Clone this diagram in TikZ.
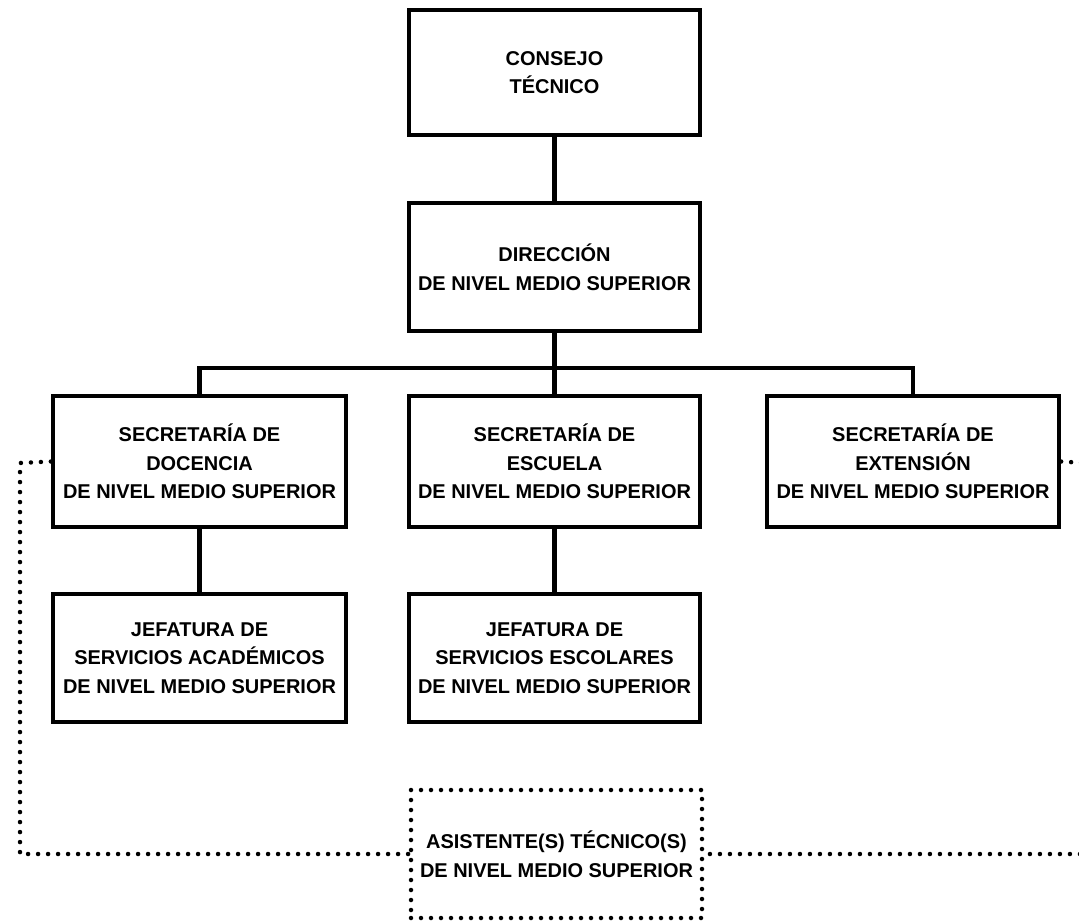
\documentclass[tikz,border=0pt]{standalone}
\usepackage{fontspec}
\setmainfont{Liberation Sans}
\usepackage{tikz}
\usetikzlibrary{positioning}

\tikzset{
  orgbox/.style={draw, line width=3pt, minimum width=291*0.025cm, minimum height=128*0.025cm,
    align=center, font=\fontsize{14.2}{20.4}\selectfont\bfseries, inner sep=0pt},
  link/.style={line width=3pt},
  dotlink/.style={line width=3.2pt, line cap=round, dash pattern=on 0pt off 10*0.025cm}
}

\begin{document}
\begin{tikzpicture}[x=0.025cm, y=-0.025cm]
\useasboundingbox (0,0) rectangle (1079,921);

\node[orgbox, minimum height=125*0.025cm] (consejo) at (554.5,72.5) {CONSEJO\\TÉCNICO};
\node[orgbox] (direccion) at (554.5,267) {DIRECCIÓN\\DE NIVEL MEDIO SUPERIOR};

\node[orgbox, minimum width=293*0.025cm, minimum height=131*0.025cm] (sec_doc) at (199.5,461.5) {SECRETARÍA DE\\DOCENCIA\\DE NIVEL MEDIO SUPERIOR};
\node[orgbox, minimum height=131*0.025cm] (sec_esc) at (554.5,461.5) {SECRETARÍA DE\\ESCUELA\\DE NIVEL MEDIO SUPERIOR};
\node[orgbox, minimum width=292*0.025cm, minimum height=131*0.025cm] (sec_ext) at (913,461.5) {SECRETARÍA DE\\EXTENSIÓN\\DE NIVEL MEDIO SUPERIOR};

\node[orgbox, minimum width=293*0.025cm] (jef_aca) at (199.5,658) {JEFATURA DE\\SERVICIOS ACADÉMICOS\\DE NIVEL MEDIO SUPERIOR};
\node[orgbox] (jef_esc) at (554.5,658) {JEFATURA DE\\SERVICIOS ESCOLARES\\DE NIVEL MEDIO SUPERIOR};

\node[orgbox, dotlink, draw] (asist) at (556.5,854) {ASISTENTE(S) TÉCNICO(S)\\DE NIVEL MEDIO SUPERIOR};

\coordinate (bus) at (554.5,368);
\coordinate (left_turn) at (20,463);
\coordinate (right_turn) at (1085,463);

\draw[link] (consejo) -- (direccion);
\draw[link] (direccion) -- (sec_esc);
\draw[link] (sec_doc.north) |- (bus) -| (sec_ext.north);
\draw[link] (sec_doc) -- (jef_aca);
\draw[link] (sec_esc) -- (jef_esc);

\draw[dotlink] (sec_doc.west) -- (left_turn) |- (asist.west);
\draw[dotlink] (sec_ext.east) -- (right_turn) |- (asist.east);

\end{tikzpicture}
\end{document}
